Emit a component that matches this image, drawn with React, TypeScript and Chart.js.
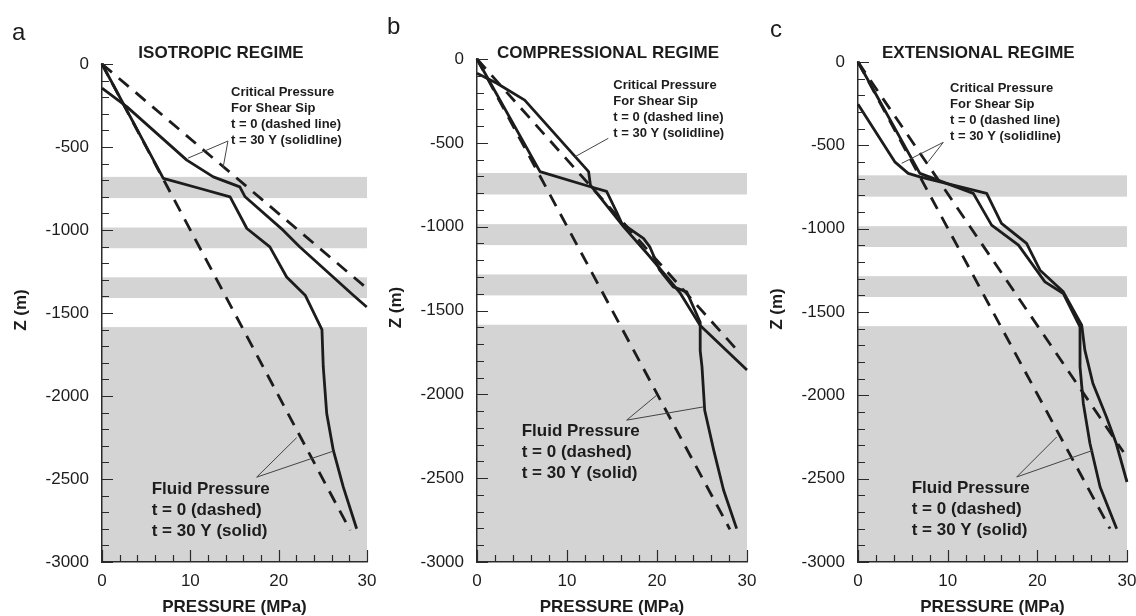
import React, { useEffect, useRef } from 'react';
import { Chart, registerables } from 'chart.js';

Chart.register(...registerables);

type Pt = [number, number];

// ---- text / tick labels ----
const panelLetters = ['a', 'b', 'c'];
const panelTitles = ['ISOTROPIC REGIME', 'COMPRESSIONAL REGIME', 'EXTENSIONAL REGIME'];
const criticalLabel = ['Critical Pressure', 'For Shear Sip', 't = 0 (dashed line)', 't = 30 Y (solidline)'];
const fluidLabel = ['Fluid Pressure', 't = 0 (dashed)', 't = 30 Y (solid)'];
const xAxisTitle = 'PRESSURE (MPa)';
const yAxisTitle = 'Z (m)';
const pressureTicks = [0, 10, 20, 30];
const depthTicks = [0, -500, -1000, -1500, -2000, -2500, -3000];

// ---- shaded layers (depth, m) ----
const shadedBandTops = [-680, -985, -1285, -1585];
const shadedBandBottoms = [-808, -1110, -1410, -3000];

// ---- panel a: isotropic (pressure MPa, depth m) ----
const isoCriticalT0: Pt[] = [[0, 0], [29.8, -1343]];
const isoFluidT0: Pt[] = [[0, 0], [28.1, -2810]];
const isoCritical30: Pt[] = [[0, -146], [2.8, -257], [9.6, -579], [12.6, -680], [15.6, -740], [16.2, -800], [20.5, -1001], [22.4, -1102], [28.45, -1393], [29.97, -1464]];
const isoFluid30: Pt[] = [[0, 0], [6.94, -689], [11.1, -750], [14.5, -800], [16.4, -991], [19.0, -1102], [20.9, -1283], [23.0, -1393], [24.9, -1600], [25.05, -1825], [25.44, -2106], [26.19, -2328], [27.32, -2549], [28.83, -2800]];
const isoCriticalPointer: Pt[] = [[14.26, -464], [9.74, -567], [13.7, -627]];
const isoFluidPointer: Pt[] = [[17.51, -2489], [22.04, -2251], [26.19, -2332]];

// ---- panel b: compressional ----
const compCriticalT0: Pt[] = [[0, 0], [29.3, -1760]];
const compFluidT0: Pt[] = [[0, 0], [28.1, -2805]];
const compCritical30: Pt[] = [[0, -85], [2.2, -145], [5.3, -245], [12.4, -672], [12.6, -752], [16.3, -1001], [18.9, -1160], [21.1, -1299], [22.6, -1398], [24.8, -1590], [30, -1855]];
const compFluid30: Pt[] = [[0, 0], [7.0, -672], [12.6, -762], [14.4, -790], [15.5, -911], [16.1, -981], [18.5, -1070], [19.2, -1120], [20.3, -1259], [21.8, -1359], [23.3, -1389], [24.8, -1570], [24.8, -1740], [25.0, -1836], [25.3, -2095], [26.3, -2333], [27.4, -2572], [28.85, -2801]];
const compCriticalPointer: Pt[] = [[14.59, -473], [10.89, -583]];
const compFluidPointer: Pt[] = [[16.63, -2154], [19.97, -2005], [25.14, -2075]];

// ---- panel c: extensional ----
const extCriticalT0: Pt[] = [[0, 0], [29.6, -2340]];
const extFluidT0: Pt[] = [[0, 0], [28.1, -2800]];
const extCritical30: Pt[] = [[0, -254], [4.1, -599], [5.6, -668], [6.9, -689], [14.35, -788], [16.0, -968], [18.8, -1088], [20.3, -1249], [22.9, -1379], [24.95, -1579], [25.3, -1729], [26.2, -1929], [27.7, -2129], [28.8, -2289], [30, -2520]];
const extFluid30: Pt[] = [[0, 0], [6.9, -668], [12.86, -788], [14.9, -979], [17.9, -1099], [20.85, -1319], [22.9, -1389], [24.76, -1589], [24.76, -1829], [25.13, -2049], [25.87, -2289], [27.0, -2550], [28.85, -2800]];
const extCriticalPointer: Pt[] = [[9.51, -482], [4.87, -608], [7.84, -598]];
const extFluidPointer: Pt[] = [[17.7, -2490], [22.16, -2250], [26.24, -2329]];

// ---- styling / layout ----
const FONT = "'Liberation Sans', Arial, Helvetica, sans-serif";
const INK = '#1c1c1c';
const AXIS = '#2a2a2a';
const BAND = '#d4d4d4';
const Y_AXIS_W = 70;
const PAGE_W = 1136;
const PAGE_H = 616;
const PLOT_BOTTOM = 562;

interface PanelSpec {
  letter: string;
  title: string;
  canvasLeft: number;
  canvasWidth: number;
  chartLeft: number;
  chartRight: number;
  chartTop: number;
  titleDX: number;
  letterX: number;
  letterY: number;
  critDX: number;
  critDY: number;
  fluidDX: number;
  fluidDY: number;
  criticalT0: Pt[];
  fluidT0: Pt[];
  critical30: Pt[];
  fluid30: Pt[];
  critPointer: Pt[];
  fluidPointer: Pt[];
}

const panels: PanelSpec[] = [
  {
    letter: panelLetters[0], title: panelTitles[0], canvasLeft: 0, canvasWidth: 400,
    chartLeft: 102, chartRight: 367, chartTop: 64, titleDX: 119, letterX: 12, letterY: 40,
    critDX: 129, critDY: 28.7, fluidDX: 49.7, fluidDY: 425,
    criticalT0: isoCriticalT0, fluidT0: isoFluidT0, critical30: isoCritical30, fluid30: isoFluid30,
    critPointer: isoCriticalPointer, fluidPointer: isoFluidPointer,
  },
  {
    letter: panelLetters[1], title: panelTitles[1], canvasLeft: 380, canvasWidth: 410,
    chartLeft: 477, chartRight: 747, chartTop: 59, titleDX: 131, letterX: 7, letterY: 34,
    critDX: 136.3, critDY: 26, fluidDX: 44.7, fluidDY: 372.7,
    criticalT0: compCriticalT0, fluidT0: compFluidT0, critical30: compCritical30, fluid30: compFluid30,
    critPointer: compCriticalPointer, fluidPointer: compFluidPointer,
  },
  {
    letter: panelLetters[2], title: panelTitles[2], canvasLeft: 760, canvasWidth: 390,
    chartLeft: 858, chartRight: 1127, chartTop: 62, titleDX: 120.3, letterX: 10, letterY: 37,
    critDX: 92, critDY: 26.3, fluidDX: 53.7, fluidDY: 426.3,
    criticalT0: extCriticalT0, fluidT0: extFluidT0, critical30: extCritical30, fluid30: extFluid30,
    critPointer: extCriticalPointer, fluidPointer: extFluidPointer,
  },
];

function makeOverlay(p: PanelSpec) {
  return {
    id: 'overlay' + p.letter,
    beforeDraw(chart: any) {
      const { ctx, scales } = chart;
      const xs = scales.x;
      const ys = scales.y;
      ctx.save();
      ctx.fillStyle = BAND;
      const x1 = xs.getPixelForValue(xs.min);
      const x2 = xs.getPixelForValue(xs.max);
      for (let i = 0; i < shadedBandTops.length; i++) {
        const y1 = ys.getPixelForValue(shadedBandTops[i]);
        const y2 = ys.getPixelForValue(shadedBandBottoms[i]);
        ctx.fillRect(x1, y1, x2 - x1, y2 - y1);
      }
      ctx.restore();
    },
    afterDatasetsDraw(chart: any) {
      const { ctx, scales, chartArea } = chart;
      const xs = scales.x;
      const ys = scales.y;
      ctx.save();
      // inward tick marks
      ctx.strokeStyle = AXIS;
      ctx.lineWidth = 1.2;
      ctx.beginPath();
      const left = chartArea.left;
      const bottom = chartArea.bottom;
      for (let v = ys.min; v <= ys.max; v += 100) {
        const y = Math.round(ys.getPixelForValue(v)) + 0.5;
        const len = v % 500 === 0 ? 11 : 7;
        ctx.moveTo(left, y);
        ctx.lineTo(left + len, y);
      }
      for (let v = xs.min; v <= xs.max; v += 2) {
        const x = Math.round(xs.getPixelForValue(v)) + 0.5;
        const len = v % 10 === 0 ? 12 : 7;
        ctx.moveTo(x, bottom);
        ctx.lineTo(x, bottom - len);
      }
      ctx.stroke();

      // leader lines
      ctx.strokeStyle = '#444';
      ctx.lineWidth = 1;
      const drawPointer = (pts: Pt[]) => {
        const ox = xs.getPixelForValue(pts[0][0]);
        const oy = ys.getPixelForValue(pts[0][1]);
        ctx.beginPath();
        for (let i = 1; i < pts.length; i++) {
          ctx.moveTo(ox, oy);
          ctx.lineTo(xs.getPixelForValue(pts[i][0]), ys.getPixelForValue(pts[i][1]));
        }
        ctx.stroke();
      };
      drawPointer(p.critPointer);
      drawPointer(p.fluidPointer);

      // annotation texts
      ctx.fillStyle = INK;
      ctx.textAlign = 'left';
      ctx.textBaseline = 'middle';
      ctx.font = `bold 13px ${FONT}`;
      criticalLabel.forEach((t, i) => ctx.fillText(t, left + p.critDX, chartArea.top + p.critDY + i * 16));
      ctx.font = `bold 17px ${FONT}`;
      fluidLabel.forEach((t, i) => ctx.fillText(t, left + p.fluidDX, chartArea.top + p.fluidDY + i * 21));

      // title
      ctx.textAlign = 'center';
      ctx.font = `bold 17px ${FONT}`;
      ctx.fillText(p.title, left + p.titleDX, 53);

      // axis titles
      ctx.fillText(xAxisTitle, (chartArea.left + chartArea.right) / 2, 607);
      ctx.save();
      ctx.translate(left - 81, (chartArea.top + chartArea.bottom) / 2 - 3);
      ctx.rotate(-Math.PI / 2);
      ctx.fillText(yAxisTitle, 0, 0);
      ctx.restore();

      // panel letter
      ctx.textAlign = 'left';
      ctx.textBaseline = 'alphabetic';
      ctx.font = `24px ${FONT}`;
      ctx.fillText(p.letter, p.letterX, p.letterY);
      ctx.restore();
    },
  };
}

function lineDataset(pts: Pt[], dashed: boolean) {
  return {
    data: pts.map(([x, y]) => ({ x, y })),
    showLine: true,
    borderColor: INK,
    borderWidth: 2.8,
    borderDash: dashed ? [13, 9] : [],
    borderJoinStyle: 'round' as const,
    borderCapStyle: 'butt' as const,
    pointRadius: 0,
    pointHoverRadius: 0,
    fill: false,
    tension: 0,
    clip: false as const,
  };
}

function Panel({ p }: { p: PanelSpec }) {
  const ref = useRef<HTMLCanvasElement | null>(null);
  useEffect(() => {
    if (!ref.current) return;
    const chart = new Chart(ref.current, {
      type: 'scatter',
      data: {
        datasets: [
          lineDataset(p.fluidT0, true),
          lineDataset(p.criticalT0, true),
          lineDataset(p.fluid30, false),
          lineDataset(p.critical30, false),
        ] as any,
      },
      options: {
        responsive: false,
        animation: false,
        devicePixelRatio: 1,
        events: [],
        layout: {
          padding: {
            left: p.chartLeft - p.canvasLeft - Y_AXIS_W,
            right: p.canvasLeft + p.canvasWidth - p.chartRight,
            top: p.chartTop,
            bottom: 0,
          },
        },
        plugins: { legend: { display: false }, tooltip: { enabled: false }, title: { display: false } },
        scales: {
          x: {
            type: 'linear',
            position: 'bottom',
            min: 0,
            max: 30,
            afterFit: (s: any) => { s.height = PAGE_H - PLOT_BOTTOM; },
            afterBuildTicks: (s: any) => { s.ticks = pressureTicks.map((v) => ({ value: v })); },
            ticks: {
              font: { family: FONT, size: 17 },
              color: INK,
              padding: 9,
              maxRotation: 0,
              autoSkip: false,
              callback: (v: any) => String(v),
            },
            grid: { display: false, drawTicks: false },
            border: { display: true, color: AXIS, width: 1.5 },
          },
          y: {
            type: 'linear',
            position: 'left',
            min: -3000,
            max: 0,
            afterFit: (s: any) => { s.width = Y_AXIS_W; },
            afterBuildTicks: (s: any) => { s.ticks = depthTicks.map((v) => ({ value: v })); },
            ticks: {
              font: { family: FONT, size: 17 },
              color: INK,
              padding: 13,
              autoSkip: false,
              callback: (v: any) => String(v),
            },
            grid: { display: false, drawTicks: false },
            border: { display: true, color: AXIS, width: 1.5 },
          },
        },
      } as any,
      plugins: [makeOverlay(p)],
    });
    return () => chart.destroy();
  }, [p]);
  return (
    <canvas
      ref={ref}
      width={p.canvasWidth}
      height={PAGE_H}
      style={{ position: 'absolute', left: p.canvasLeft, top: 0, width: p.canvasWidth, height: PAGE_H }}
    />
  );
}

export default function App() {
  return (
    <div
      style={{
        position: 'absolute',
        left: 0,
        top: 0,
        width: PAGE_W,
        height: PAGE_H,
        overflow: 'hidden',
        background: '#ffffff',
      }}
    >
      {panels.map((p) => (
        <Panel key={p.letter} p={p} />
      ))}
    </div>
  );
}
